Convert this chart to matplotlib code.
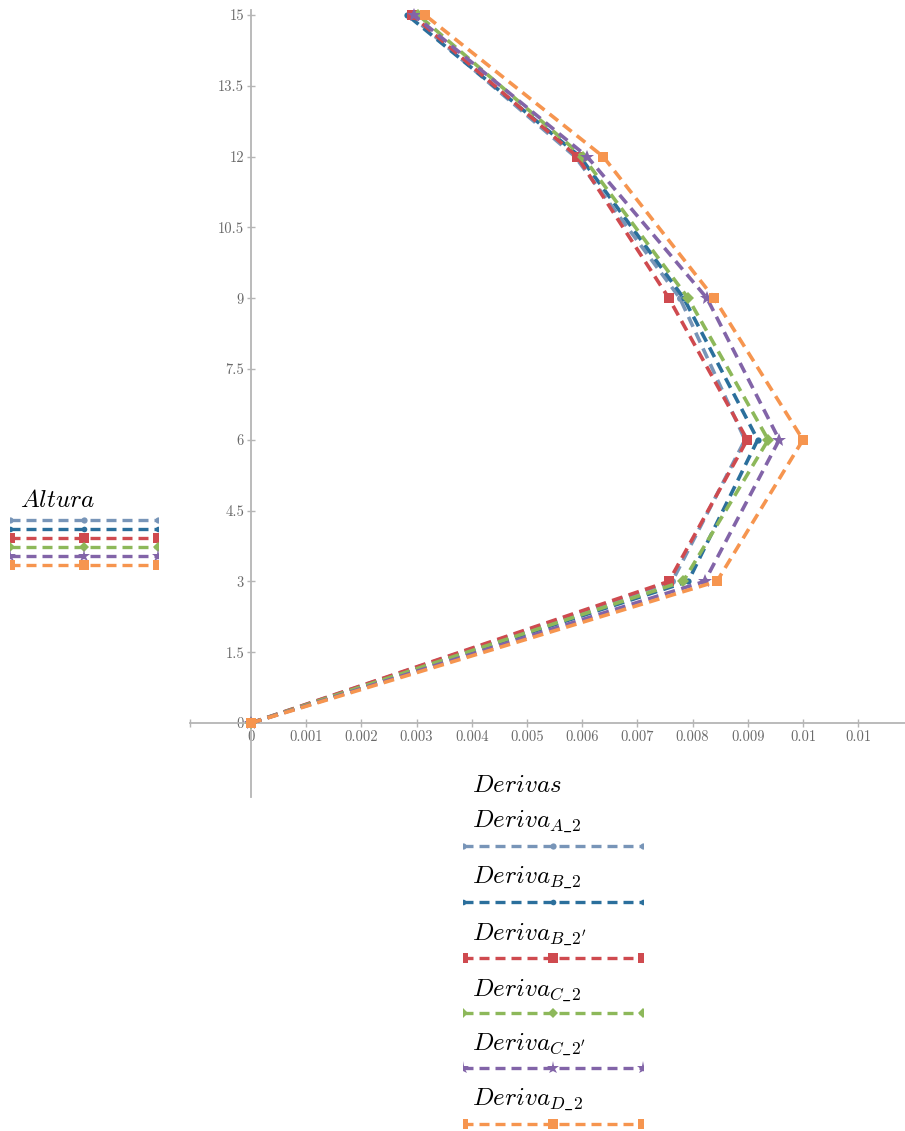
import matplotlib
matplotlib.use("Agg")
import matplotlib.pyplot as plt
from matplotlib.lines import Line2D

plt.rcParams["mathtext.fontset"] = "cm"
plt.rcParams["axes.unicode_minus"] = False

# Storey heights (m)
alturas = [0, 3, 6, 9, 12, 15]

# Inter-storey drifts per model
deriva_a2 = [0, 0.00763, 0.00895, 0.00777, 0.00587, 0.00288]
deriva_b2 = [0, 0.00792, 0.00918, 0.00784, 0.00596, 0.00283]
deriva_b2p = [0, 0.00757, 0.00899, 0.00757, 0.00591, 0.00292]
deriva_c2 = [0, 0.00783, 0.00937, 0.00792, 0.00601, 0.00303]
deriva_c2p = [0, 0.00822, 0.00957, 0.00826, 0.00609, 0.00295]
deriva_d2 = [0, 0.00844, 0.01000, 0.00839, 0.00638, 0.00315]

series_labels = [r"$Deriva_{A\_2}$", r"$Deriva_{B\_2}$", r"$Deriva_{B\_2'}$",
                 r"$Deriva_{C\_2}$", r"$Deriva_{C\_2'}$", r"$Deriva_{D\_2}$"]

y_ticks = [0, 1.5, 3, 4.5, 6, 7.5, 9, 10.5, 12, 13.5, 15]
y_tick_labels = ["0", "1.5", "3", "4.5", "6", "7.5", "9", "10.5", "12", "13.5", "15"]
x_ticks = [-0.0011, 0, 0.001, 0.002, 0.003, 0.004, 0.005, 0.006, 0.007,
           0.008, 0.009, 0.010, 0.011]
x_tick_labels = ["", "0", "0.001", "0.002", "0.003", "0.004", "0.005", "0.006",
                 "0.007", "0.008", "0.009", "0.01", "0.01"]

series = [deriva_a2, deriva_b2, deriva_b2p, deriva_c2, deriva_c2p, deriva_d2]
colors = ["#7895b8", "#2b6f9c", "#cf4a4f", "#8db85a", "#8264a8", "#f6954f"]
markers = ["o", "o", "s", "D", "*", "s"]
msizes = [5, 4.5, 7.5, 6, 10.5, 7.5]

W, H = 905, 1131
fig = plt.figure(figsize=(W / 100, H / 100), dpi=100)


def frac(x0, y0, x1, y1):
    return [x0 / W, 1 - y1 / H, (x1 - x0) / W, (y1 - y0) / H]


ax = fig.add_axes(frac(190, 10, 905, 797))
ax.set_xlim(-0.001105, 0.011848)
ax.set_ylim(-1.568, 15.106)

dash = (3.0, 1.8)
for xs, c, m, ms in zip(series, colors, markers, msizes):
    ax.plot(xs, alturas, color=c, lw=2.6, ls=(0, dash), marker=m, ms=ms,
            markeredgewidth=0, zorder=3, clip_on=False)

for side in ("top", "right"):
    ax.spines[side].set_visible(False)
ax.spines["left"].set_position(("data", 0))
ax.spines["bottom"].set_position(("data", 0))
for side in ("left", "bottom"):
    ax.spines[side].set_color("#b5b5b5")
    ax.spines[side].set_linewidth(1.3)

ax.set_yticks(y_ticks)
ax.set_yticklabels(y_tick_labels, fontfamily="cmr10", fontsize=10.5, color="#6a6a6a")
ax.set_xticks(x_ticks)
ax.set_xticklabels(x_tick_labels, fontfamily="cmr10", fontsize=10.5, color="#6a6a6a")
ax.tick_params(axis="both", direction="inout", length=6, width=1, color="#b5b5b5",
               pad=2)
ax.patch.set_visible(False)

# Axis titles
fig.text(20 / W, 1 - 500 / H, r"$Altura$", fontsize=18, va="center", ha="left")
fig.text(472 / W, 1 - 785 / H, r"$Derivas$", fontsize=18, va="center", ha="left")


def legend_row(x0, x1, yc, c, m, ms, lw):
    lax = fig.add_axes(frac(x0, yc - 7, x1, yc + 7))
    lax.set_xlim(0, 1)
    lax.set_ylim(-1, 1)
    lax.axis("off")
    lax.add_line(Line2D([0, 0.5, 1], [0, 0, 0], color=c, lw=lw, ls=(0, dash),
                        marker=m, ms=ms, markeredgewidth=0))


# Short legend beside the height axis
for i, (c, m, ms) in enumerate(zip(colors, markers, msizes)):
    legend_row(10, 158, 520 + i * 8.9, c, m, ms * 0.9, 2.4)

# Legend under the drift axis
label_y = [822, 878, 935, 991, 1045, 1100]
line_y = [846, 902, 958, 1013, 1068, 1124]
for lab, ly, yy, c, m, ms in zip(series_labels, label_y, line_y, colors, markers, msizes):
    fig.text(472 / W, 1 - ly / H, lab, fontsize=18, va="center", ha="left")
    legend_row(463, 643, yy, c, m, ms * 0.9, 2.4)

fig.savefig("out.png", dpi=100)
